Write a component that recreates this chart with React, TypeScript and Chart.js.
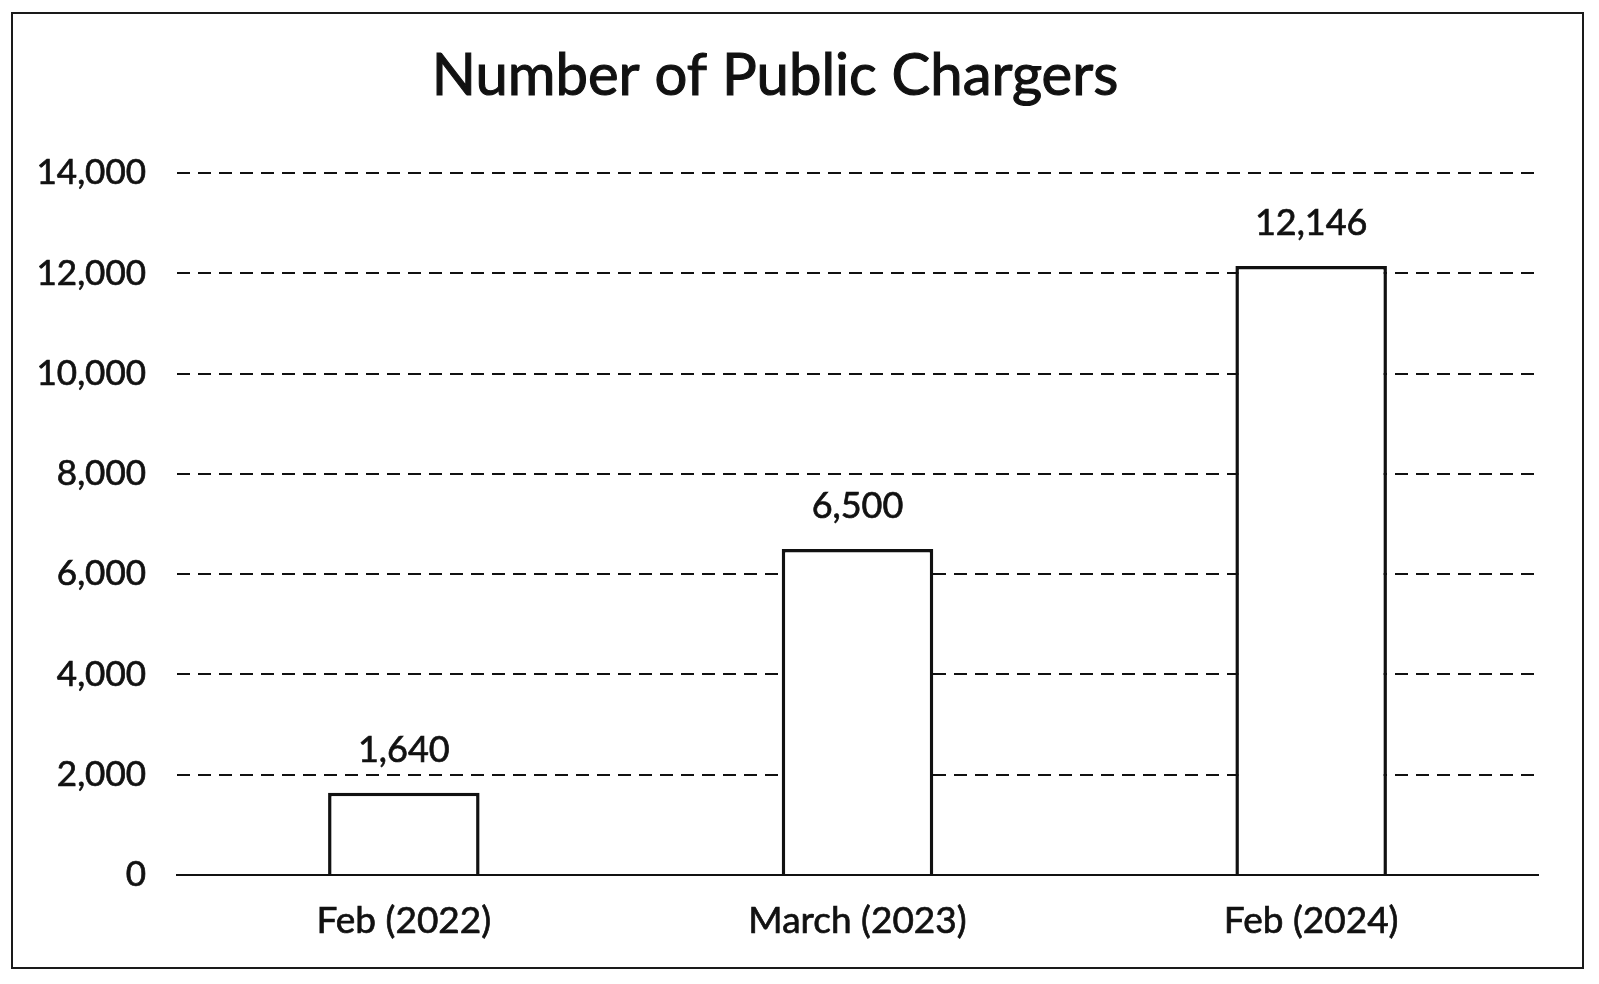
import React, { useEffect, useRef } from "react";
import { Chart, registerables } from "chart.js";

Chart.register(...registerables);

// Public charging points counted at three survey dates
const periods: string[] = ["Feb (2022)", "March (2023)", "Feb (2024)"];
const chargerCounts: number[] = [1640, 6500, 12146];
const yTickValues: number[] = [0, 2000, 4000, 6000, 8000, 10000, 12000, 14000];

const chartTitle = "Number of Public Chargers";
const FONT = "Lato, 'Open Sans', 'DejaVu Sans', sans-serif";
const INK = "#111111";

const fmt = (v: number) => v.toLocaleString("en-US");

// Title drawn above the plot, centered on the framed panel
const titlePlugin = {
  id: "panelTitle",
  afterDraw(chart: any) {
    const { ctx } = chart;
    ctx.save();
    ctx.font = `58px ${FONT}`;
    ctx.fillStyle = INK;
    ctx.strokeStyle = INK;
    ctx.lineWidth = 1.1;
    ctx.textAlign = "center";
    ctx.textBaseline = "alphabetic";
    ctx.fillText(chartTitle, 775, 95);
    ctx.strokeText(chartTitle, 775, 95);
    ctx.restore();
  },
};

// Value labels above each bar
const valueLabels = {
  id: "valueLabels",
  afterDatasetsDraw(chart: any) {
    const { ctx } = chart;
    const meta = chart.getDatasetMeta(0);
    ctx.save();
    ctx.font = `36px ${FONT}`;
    ctx.textAlign = "center";
    ctx.textBaseline = "alphabetic";
    meta.data.forEach((bar: any, i: number) => {
      const text = fmt(chargerCounts[i]);
      const w = ctx.measureText(text).width;
      const baseY = bar.y - 31;
      ctx.fillStyle = "rgba(255,255,255,0.55)";
      ctx.fillRect(bar.x - w / 2, baseY - 27, w, 33);
      ctx.fillStyle = INK;
      ctx.strokeStyle = INK;
      ctx.lineWidth = 0.7;
      ctx.fillText(text, bar.x, baseY);
      ctx.strokeText(text, bar.x, baseY);
    });
    ctx.restore();
  },
};

export default function App() {
  const canvasRef = useRef<HTMLCanvasElement | null>(null);

  useEffect(() => {
    document.body.style.margin = "0";
    document.body.style.background = "#ffffff";
    const canvas = canvasRef.current;
    if (!canvas) return;
    const chart = new Chart(canvas, {
      type: "bar",
      data: {
        labels: periods,
        datasets: [
          {
            data: chargerCounts,
            backgroundColor: "#ffffff",
            borderColor: INK,
            borderWidth: 3.5,
            barPercentage: 0.334,
            categoryPercentage: 1,
          },
        ],
      },
      options: {
        animation: false,
        responsive: false,
        maintainAspectRatio: false,
        layout: { padding: { top: 173, right: 61, bottom: 0, left: 0 } },
        plugins: {
          legend: { display: false },
          title: { display: false },
          tooltip: { enabled: false },
        },
        scales: {
          x: {
            offset: true,
            grid: { display: false },
            border: { display: true, color: INK, width: 2 },
            ticks: {
              color: INK,
              font: { family: FONT, size: 37 },
              padding: 16,
              maxRotation: 0,
              textStrokeColor: INK,
              textStrokeWidth: 0.7,
            },
            afterFit(scale: any) {
              scale.height = 109;
            },
          },
          y: {
            min: 0,
            max: 14000,
            afterBuildTicks(scale: any) {
              scale.ticks = yTickValues.map((v) => ({ value: v }));
            },
            grid: { color: INK, lineWidth: 2, drawTicks: false },
            border: { display: false, dash: [13, 8] },
            ticks: {
              color: INK,
              font: { family: FONT, size: 35 },
              padding: 31,
              textStrokeColor: INK,
              textStrokeWidth: 0.7,
              callback: (v: any) => fmt(Number(v)),
            },
            afterFit(scale: any) {
              scale.width = 177;
            },
          },
        },
      },
      plugins: [titlePlugin, valueLabels],
    });
    return () => chart.destroy();
  }, []);

  return (
    <div style={{ position: "relative", width: 1599, height: 984, background: "#ffffff" }}>
      <div
        style={{
          position: "absolute",
          left: 11,
          top: 12,
          width: 1573,
          height: 957,
          border: "2.5px solid #1a1a1a",
          boxSizing: "border-box",
        }}
      />
      <canvas
        ref={canvasRef}
        width={1599}
        height={984}
        style={{ position: "absolute", left: 0, top: 0, width: 1599, height: 984 }}
      />
    </div>
  );
}
